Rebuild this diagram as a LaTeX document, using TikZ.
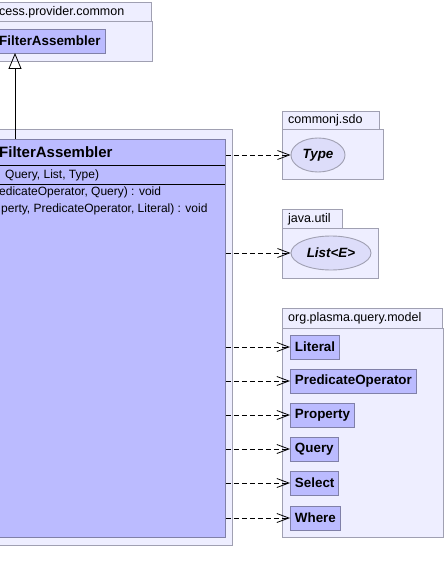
\documentclass[tikz,border=0pt]{standalone}
\usepackage{fontspec}
\setmainfont{Liberation Sans}
\usepackage{xcolor}
\usepackage{tikz}
\usetikzlibrary{positioning,arrows.meta,shapes.geometric}
\definecolor{pkgfill}{RGB}{238,238,255}
\definecolor{pkgline}{RGB}{160,160,178}
\definecolor{clsfill}{RGB}{187,187,255}
\definecolor{clsline}{RGB}{128,128,168}
\definecolor{ifcfill}{RGB}{221,221,250}
\begin{document}
\begin{tikzpicture}[
  x=1pt, y=-1pt,
  pkg/.style={rectangle, draw=pkgline, fill=pkgfill, line width=0.9pt, anchor=north west, inner sep=0pt},
  pkglabel/.style={anchor=west, inner sep=0pt, font=\fontsize{12.5}{14}\selectfont},
  cls/.style={rectangle, draw=clsline, fill=clsfill, line width=0.9pt, anchor=west, minimum height=24pt, inner xsep=4.5pt, inner ysep=0pt, font=\bfseries\fontsize{13.4}{15}\selectfont},
  ifc/.style={ellipse, draw=pkgline, fill=ifcfill, line width=0.9pt, inner sep=0pt, font=\bfseries\itshape\fontsize{13.4}{15}\selectfont},
  member/.style={anchor=west, inner sep=0pt, font=\fontsize{12}{14}\selectfont},
  dep/.style={-{Straight Barb[length=12pt,width=9pt]}, dashed, dash pattern=on 5pt off 3pt, line width=0.8pt},
  gen/.style={-{Triangle[open,length=16pt,width=13pt]}, line width=0.8pt}
]
\useasboundingbox (0,0) rectangle (445,583);
\clip (0,0) rectangle (445,583);

% superclass package
\node[pkg, minimum width=153pt, minimum height=19pt] (commontab) at (-2,2) {};
\node[pkg, minimum width=154pt, minimum height=40pt] (common) at (-2,21) {};
\node[pkglabel] (commonlbl) at (-1,12) {cess.provider.common};
\node[cls, minimum width=107pt, minimum height=24pt, anchor=north west, inner xsep=0pt, align=left] (supercls) at (-2,29) {};
\node[anchor=west, inner sep=0pt, font=\bfseries\fontsize{13.4}{15}\selectfont] (superlbl) at (-1,41) {FilterAssembler};

% main package and class
\node[pkg, minimum width=234pt, minimum height=416pt] (mainpkg) at (-2,129) {};
\node[pkg, draw=clsline, fill=clsfill, minimum width=227pt, minimum height=398pt] (main) at (-2,139) {};
\draw[black, line width=0.6pt] (-2,165) -- (225,165) (-2,184) -- (225,184);
\node[anchor=west, inner sep=0pt, font=\bfseries\fontsize{15}{17}\selectfont] (mainlbl) at (-1,152) {FilterAssembler};
\node[member] (ctor) at (5,175) {Query, List, Type)};
\node[member] (meth1) at (-1,192) {edicateOperator, Query) : void};
\node[member] (meth2) at (1,209) {perty, PredicateOperator, Literal) : void};

% commonj.sdo
\node[pkg, minimum width=97pt, minimum height=18pt] (sdotab) at (282,111) {};
\node[pkg, minimum width=101pt, minimum height=50pt] (sdo) at (282,129) {};
\node[pkglabel] (sdolbl) at (288,120) {commonj.sdo};
\node[ifc, minimum width=54pt, minimum height=34pt] (type) at (318,155) {Type};

% java.util
\node[pkg, minimum width=60pt, minimum height=19pt] (utiltab) at (282,209) {};
\node[pkg, minimum width=96pt, minimum height=50pt] (util) at (282,228) {};
\node[pkglabel] (utillbl) at (288,219) {java.util};
\node[ifc, minimum width=80pt, minimum height=34pt] (list) at (331,253) {List<E>};

% org.plasma.query.model
\node[pkg, minimum width=160pt, minimum height=20pt] (modeltab) at (282,308) {};
\node[pkg, minimum width=161pt, minimum height=209pt] (model) at (282,328) {};
\node[pkglabel] (modellbl) at (288,318) {org.plasma.query.model};
\node[cls] (literal) at (290,347) {Literal};
\node[cls] (predop) at (290,381) {PredicateOperator};
\node[cls] (property) at (290,415) {Property};
\node[cls] (query) at (290,449) {Query};
\node[cls] (select) at (290,483) {Select};
\node[cls] (where) at (290,518) {Where};

% generalization
\coordinate (genup) at (15,53);
\draw[gen] (genup |- main.north) -- (genup);

% dependencies
\foreach \t in {type,list,literal,predop,property,query,select,where}
  \draw[dep] (\t -| main.east) -- (\t);
\end{tikzpicture}
\end{document}
